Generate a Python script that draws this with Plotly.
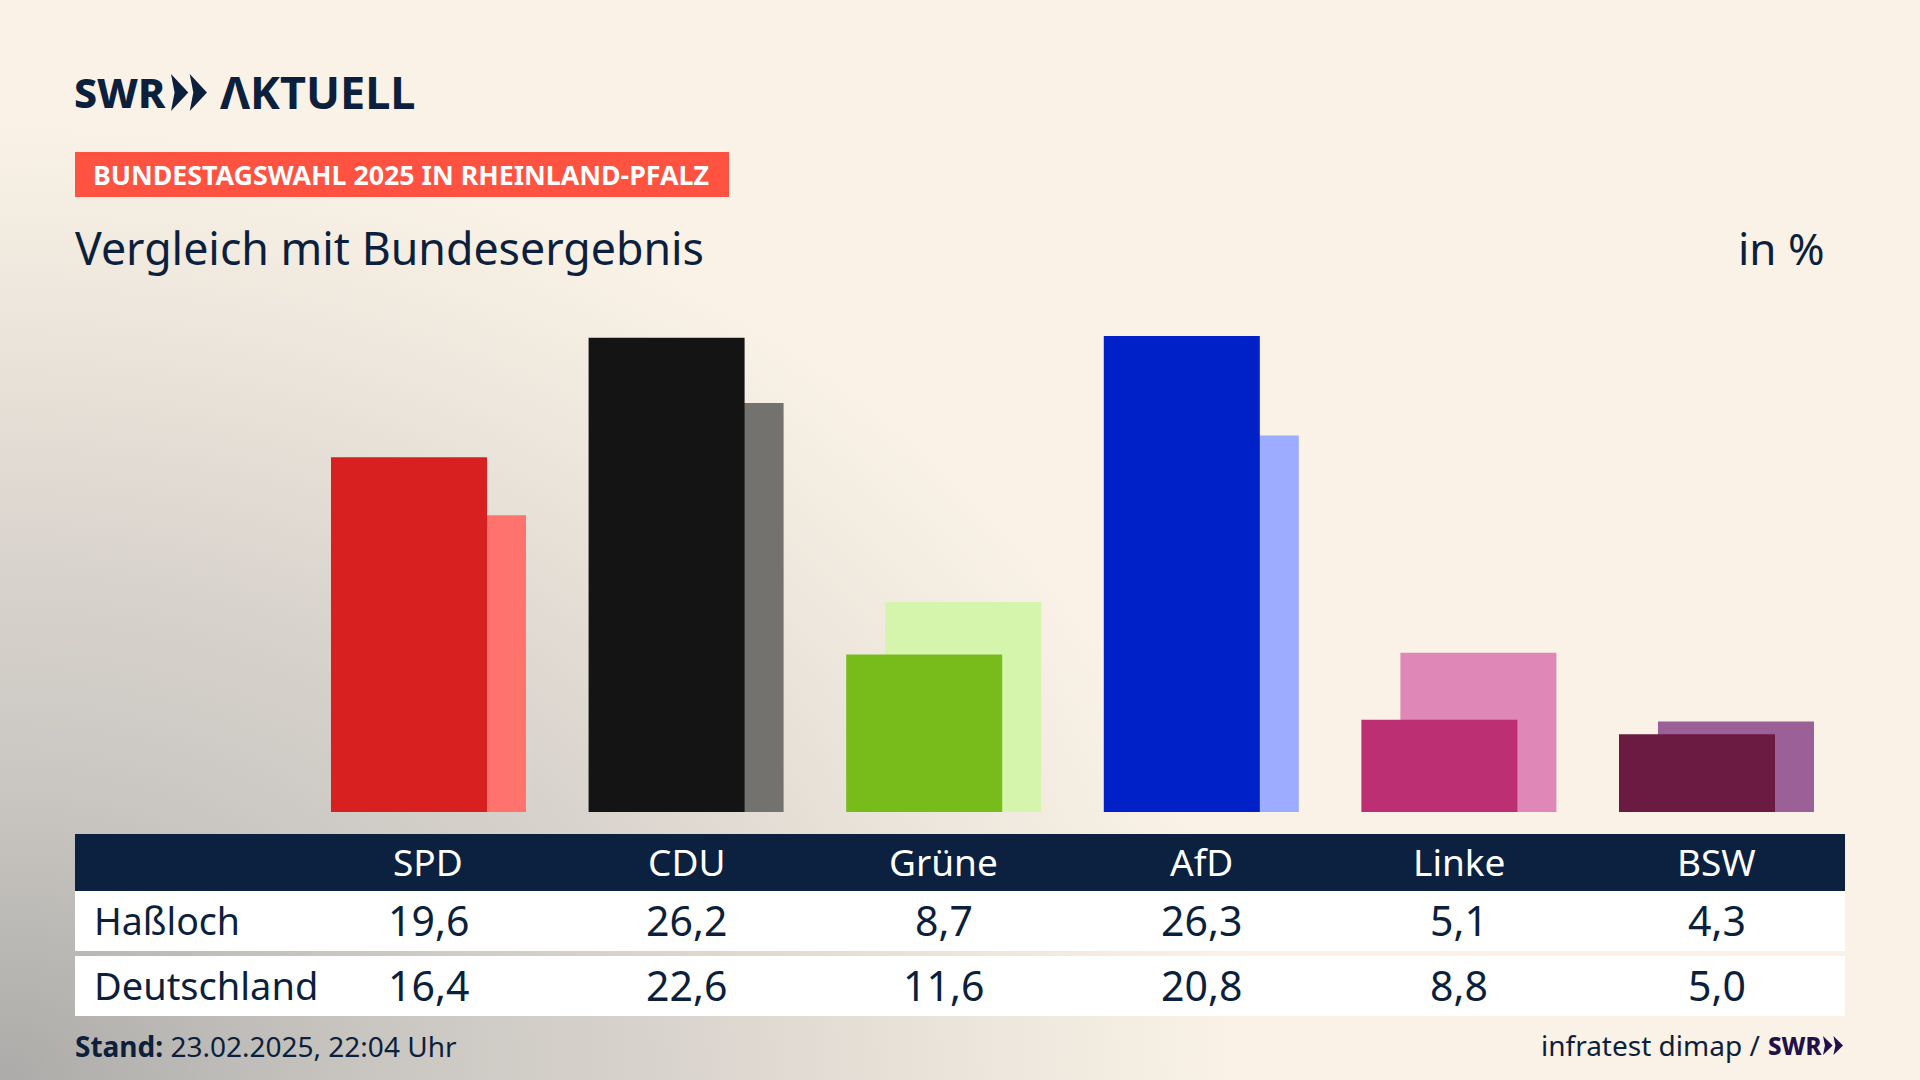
import base64
import plotly.graph_objects as go

parties = ["SPD", "CDU", "Grüne", "AfD", "Linke", "BSW"]
hassloch = [19.6, 26.2, 8.7, 26.3, 5.1, 4.3]
deutschland = [16.4, 22.6, 11.6, 20.8, 8.8, 5.0]
front_colors = ["#d7201f", "#141414", "#78bc1b", "#0020c8", "#bc2f73", "#6b1a42"]
back_colors = ["#ff736e", "#73726f", "#d6f5ac", "#9eacff", "#df87b6", "#9b6097"]

W, H = 1920, 1080
NAVY = "#0c1f3d"
PURPLE = "#22104a"
FONT = "Noto Sans"


def px(x):
    return x / W


def py(y):
    return 1 - y / H


def fmt(v):
    return f"{v:.1f}".replace(".", ",")


def label(x, y, text, size, color=NAVY, anchor="left", xref="paper", weight=400):
    # x is a pixel for paper labels and a column index for table cells
    xpos = px(x) if xref == "paper" else x
    return dict(x=xpos, y=py(y), xref=xref, yref="paper", text=text, showarrow=False,
                xanchor=anchor, yanchor="middle", align=anchor, borderpad=0, borderwidth=0,
                font=dict(family=FONT, size=size, color=color, weight=weight))


def box(x0, y0, x1, y1, color):
    return dict(type="rect", xref="paper", yref="paper", x0=px(x0), x1=px(x1),
                y0=py(y1), y1=py(y0), fillcolor=color, line_width=0, layer="below")


def chevrons(x, y, w, h, color):
    # the two arrows of the SWR logo
    path = ""
    for dx in (0, w * 0.52):
        pts = [(x + dx, y), (x + dx + w * 0.48, y + h / 2), (x + dx, y + h), (x + dx + w * 0.1, y + h / 2)]
        path += "M" + "L".join(f"{px(a):.5f},{py(b):.5f}" for a, b in pts) + "Z"
    return dict(type="path", xref="paper", yref="paper", path=path, fillcolor=color, line_width=0)


background = f"""<svg xmlns="http://www.w3.org/2000/svg" width="{W}" height="{H}">
<defs><radialGradient id="g" gradientUnits="userSpaceOnUse" cx="0" cy="0" r="1"
gradientTransform="translate(0 1080) scale(1240 960)">
<stop offset="0" stop-color="#acaba9"/>
<stop offset="0.3" stop-color="#c9c6c1"/>
<stop offset="0.55" stop-color="#d9d4cd"/>
<stop offset="0.8" stop-color="#ede6dc"/>
<stop offset="1" stop-color="#faf2e6"/>
</radialGradient></defs>
<rect width="{W}" height="{H}" fill="#faf2e6"/>
<rect width="{W}" height="{H}" fill="url(#g)"/>
</svg>"""
bg_uri = "data:image/svg+xml;base64," + base64.b64encode(background.encode()).decode()

fig = go.Figure()
x = list(range(len(parties)))
fig.add_trace(go.Bar(x=x, y=deutschland, name="Deutschland", marker=dict(color=back_colors, line_width=0),
                     width=0.6056, offset=-0.2271, hoverinfo="skip"))
fig.add_trace(go.Bar(x=x, y=hassloch, name="Haßloch", marker=dict(color=front_colors, line_width=0),
                     width=0.6056, offset=-0.3785, hoverinfo="skip"))

annotations = [
    label(74, 92, "SWR", 41, weight=800),
    label(220, 92, "ΛKTUELL", 45, weight=700),
    label(93, 175, "<b>BUNDESTAGSWAHL 2025 IN RHEINLAND-PFALZ</b>", 26.75, color="white"),
    label(75, 247, "Vergleich mit Bundesergebnis", 44.7),
    label(1825, 248, "in %", 44, anchor="right"),
    label(94, 920, "Haßloch", 37.5),
    label(94, 985, "Deutschland", 38),
    label(75, 1046, "<b>Stand:</b> 23.02.2025, 22:04 Uhr", 28),
    label(1760, 1045, "infratest dimap /", 28, anchor="right"),
    label(1768, 1045, "SWR", 24, color=PURPLE, weight=800),
]
for i, party in enumerate(parties):
    annotations.append(label(i, 861, party, 37, color="white", anchor="center", xref="x"))
    annotations.append(label(i, 920, fmt(hassloch[i]), 41, anchor="center", xref="x"))
    annotations.append(label(i, 985, fmt(deutschland[i]), 41, anchor="center", xref="x"))

shapes = [
    box(75, 152, 729, 197, "#ff5240"),
    box(75, 834, 1845, 891, "#0c2040"),
    box(75, 891, 1845, 951, "white"),
    box(75, 956, 1845, 1016, "white"),
    chevrons(171, 74, 36, 37, NAVY),
    chevrons(1823, 1036, 20, 19, PURPLE),
]

fig.update_layout(
    width=W, height=H, autosize=False,
    margin=dict(l=0, r=0, t=0, b=0),
    paper_bgcolor="#faf2e6", plot_bgcolor="rgba(0,0,0,0)",
    barmode="overlay", showlegend=False,
    annotations=annotations, shapes=shapes,
    images=[dict(source=bg_uri, xref="paper", yref="paper", x=0, y=1, sizex=1, sizey=1,
                 xanchor="left", yanchor="top", sizing="stretch", layer="below")],
)
fig.update_xaxes(range=[-1.6634, 5.79], domain=[0, 1], visible=False, fixedrange=True)
fig.update_yaxes(range=[0, 44.86], domain=[py(812), 1], visible=False, fixedrange=True)

fig.write_html("out.html", config=dict(displayModeBar=False),
               post_script="document.body.style.margin='0';document.body.style.overflow='hidden';")
